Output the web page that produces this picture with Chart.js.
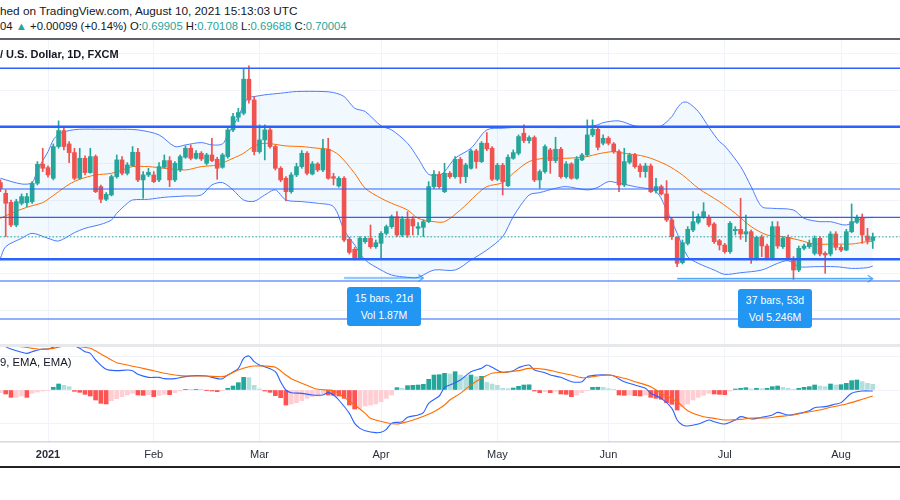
<!DOCTYPE html>
<html><head><meta charset="utf-8">
<script src="https://cdn.jsdelivr.net/npm/chart.js@4.4.0/dist/chart.umd.min.js"></script>
<style>
html,body{margin:0;padding:0;background:#fff;width:900px;height:500px;overflow:hidden;font-family:'Liberation Sans',Arial,sans-serif;color:#131722;}
.abs{position:absolute;white-space:nowrap;}
#h1{left:0;top:4px;font-size:11.8px;line-height:14px;}
#h2{left:0;top:19px;font-size:11.3px;line-height:14px;}
#h2 .t{color:#26a69a;}
#sep{left:0;top:37.5px;width:900px;height:2px;background:#5f6168;}
#title{left:0;top:47px;font-size:11px;line-height:14px;font-weight:bold;z-index:3;}
#price{position:absolute;left:0;top:40px;}
#macd{position:absolute;left:0;top:346px;}
#paneSep{left:0;top:344px;width:900px;height:3px;background:#e6e8ec;z-index:3;}
#macdLbl{left:0;top:355px;font-size:11.3px;line-height:14px;z-index:3;}
.box{position:absolute;width:74px;height:39px;background:#2196f3;color:#fff;border-radius:3px;font-size:10.5px;line-height:17px;padding-top:3px;box-sizing:border-box;text-align:center;z-index:4;white-space:nowrap;}
#bottom{left:0;top:466px;width:900px;height:2px;background:#222;}
</style>
</head><body>
<div id="h1" class="abs">hed on TradingView.com, August 10, 2021 15:13:03 UTC</div>
<div id="h2" class="abs"></div>
<div id="sep" class="abs"></div>
<div id="title" class="abs">/ U.S. Dollar, 1D, FXCM</div>
<canvas id="price" width="900" height="305"></canvas>
<div id="paneSep" class="abs"></div>
<canvas id="macd" width="900" height="121"></canvas>
<div id="macdLbl" class="abs">9, EMA, EMA)</div>
<div class="box" style="left:347px;top:287px">15 bars, 21d<br>Vol 1.87M</div>
<div class="box" style="left:738px;top:289px">37 bars, 53d<br>Vol 5.246M</div>
<div id="bottom" class="abs"></div>
<script>
// ---------- DATA ----------
const monthTickIdx = [9, 29, 49, 72, 94, 115, 137, 159];
const monthLabels = ['2021', 'Feb', 'Mar', 'Apr', 'May', 'Jun', 'Jul', 'Aug'];

const opens = [0.71482,0.71191,0.70945,0.70327,0.70918,0.70936,0.70964,0.71464,0.71982,0.71891,
0.71600,0.72464,0.72900,0.72536,0.72300,0.71600,0.72145,0.71755,0.72191,0.71373,
0.71027,0.71145,0.71645,0.72100,0.71736,0.71945,0.72309,0.71555,0.71691,0.71691,
0.71555,0.71900,0.72082,0.71555,0.71827,0.72173,0.72418,0.72145,0.72282,0.72009,
0.72236,0.72118,0.71900,0.72191,0.72918,0.73264,0.73373,0.74300,0.73736,0.72327,
0.72645,0.72918,0.72464,0.71873,0.71600,0.71236,0.71691,0.71918,0.72282,0.71718,
0.71991,0.71827,0.72391,0.71645,0.71391,0.71600,0.69936,0.69664,0.69418,0.69873,
0.69964,0.69736,0.69827,0.70100,0.70282,0.70555,0.70055,0.70491,0.70491,0.70236,
0.70264,0.70418,0.71373,0.71709,0.71236,0.71736,0.71645,0.72118,0.71645,0.71873,
0.72345,0.72055,0.72555,0.72418,0.71573,0.71955,0.71400,0.72145,0.72282,0.72827,
0.72627,0.72709,0.71555,0.71782,0.72373,0.72082,0.72391,0.71645,0.71991,0.71600,
0.72100,0.72236,0.72782,0.72936,0.72555,0.72691,0.72536,0.72327,0.71418,0.72036,
0.72236,0.71936,0.71782,0.71936,0.71264,0.71373,0.71173,0.70464,0.69991,0.69300,
0.69827,0.70191,0.70400,0.70536,0.70536,0.70355,0.69900,0.69782,0.69600,0.70173,
0.70209,0.70082,0.70145,0.69418,0.69991,0.69755,0.69418,0.70282,0.69736,0.69991,
0.69418,0.69100,0.69691,0.69736,0.69555,0.69964,0.69555,0.69536,0.70082,0.69718,
0.69645,0.70145,0.70400,0.70527,0.70027,0.69905];
const highs = [0.71555,0.71282,0.71009,0.71027,0.71173,0.71191,0.71509,0.72055,0.72418,0.71936,
0.72536,0.73164,0.72991,0.72600,0.72418,0.72418,0.72209,0.72418,0.72236,0.71418,
0.71209,0.71691,0.72236,0.72191,0.72027,0.72464,0.72418,0.71782,0.71873,0.71782,
0.72027,0.72236,0.72191,0.72055,0.72236,0.72482,0.72509,0.72355,0.72327,0.72282,
0.72691,0.72173,0.72282,0.72964,0.73373,0.73509,0.74573,0.74664,0.73827,0.73055,
0.73055,0.72991,0.72509,0.71918,0.71645,0.71755,0.72009,0.72355,0.72327,0.72055,
0.72027,0.72664,0.72691,0.71736,0.71645,0.71645,0.69991,0.69718,0.70009,0.70009,
0.70327,0.69918,0.70145,0.70327,0.70600,0.70691,0.70555,0.70691,0.70555,0.70391,
0.70464,0.71509,0.71809,0.71782,0.72009,0.71782,0.72191,0.72173,0.72009,0.72391,
0.72391,0.72600,0.72845,0.72464,0.72009,0.72009,0.72236,0.72373,0.72782,0.73055,
0.72755,0.72755,0.71827,0.72509,0.72418,0.72718,0.72445,0.72055,0.72027,0.72191,
0.72282,0.73191,0.73191,0.73009,0.72782,0.72736,0.72573,0.72373,0.72418,0.72282,
0.72282,0.71991,0.72009,0.71991,0.71600,0.71418,0.71536,0.70509,0.70009,0.69918,
0.70282,0.70691,0.70627,0.70936,0.70600,0.70391,0.69936,0.69827,0.70418,0.70282,
0.71055,0.70600,0.70191,0.70027,0.70055,0.69809,0.70418,0.70418,0.70009,0.70055,
0.69464,0.69755,0.69809,0.69918,0.70027,0.70009,0.69600,0.70145,0.70145,0.69782,
0.70209,0.70900,0.70600,0.70627,0.70236,0.70108];
const lows = [0.71236,0.70009,0.70282,0.70282,0.70873,0.70827,0.70918,0.71418,0.71782,0.71627,
0.71555,0.72418,0.72373,0.72027,0.71555,0.71573,0.71691,0.71736,0.71209,0.70936,
0.70991,0.71118,0.71600,0.71691,0.71691,0.71918,0.71509,0.71055,0.71645,0.71482,
0.71509,0.71873,0.71373,0.71509,0.71782,0.72145,0.72100,0.72118,0.72082,0.71964,
0.72055,0.71573,0.71873,0.72145,0.72873,0.73145,0.73327,0.73645,0.72236,0.72282,
0.72100,0.72418,0.71827,0.71509,0.70982,0.71191,0.71645,0.71873,0.71691,0.71691,
0.71782,0.71782,0.71573,0.71418,0.71355,0.69873,0.69536,0.69373,0.69391,0.69827,
0.69691,0.69691,0.69418,0.70055,0.70236,0.70009,0.70009,0.69991,0.70055,0.70055,
0.70009,0.70391,0.71327,0.71327,0.71209,0.71600,0.71600,0.71464,0.71482,0.71845,
0.71873,0.72027,0.72355,0.71536,0.71536,0.71145,0.71373,0.72118,0.72236,0.72573,
0.72555,0.71509,0.71327,0.71736,0.71736,0.72027,0.71600,0.71600,0.71573,0.71573,
0.72082,0.72191,0.72736,0.72373,0.72509,0.72509,0.72282,0.71236,0.71373,0.71991,
0.71873,0.71627,0.71627,0.71209,0.71191,0.71145,0.70418,0.69936,0.69191,0.69264,
0.69782,0.70145,0.70355,0.70509,0.70282,0.69827,0.69645,0.69555,0.69555,0.70055,
0.69936,0.69873,0.69282,0.69373,0.69464,0.69373,0.69373,0.69691,0.69691,0.69373,
0.68845,0.69055,0.69645,0.69691,0.69509,0.69482,0.69009,0.69482,0.69645,0.69600,
0.69627,0.70118,0.70373,0.69827,0.69809,0.69688];
const closes = [0.71327,0.70918,0.70327,0.70964,0.71100,0.71100,0.71464,0.71982,0.71873,0.71691,
0.72464,0.72900,0.72464,0.72300,0.71600,0.72145,0.71755,0.72191,0.71236,0.71027,
0.71164,0.71645,0.72100,0.71736,0.71964,0.72309,0.71555,0.71691,0.71764,0.71509,
0.71918,0.72082,0.71555,0.72009,0.72191,0.72418,0.72145,0.72282,0.72127,0.72236,
0.72082,0.71873,0.72236,0.72918,0.73282,0.73391,0.74300,0.73736,0.72327,0.72645,
0.72918,0.72464,0.71873,0.71555,0.71236,0.71691,0.71918,0.72282,0.71736,0.71991,
0.71827,0.72391,0.71600,0.71600,0.71600,0.69918,0.69582,0.69418,0.69964,0.69964,
0.69736,0.69845,0.70100,0.70282,0.70555,0.70055,0.70491,0.70055,0.70300,0.70282,
0.70418,0.71373,0.71709,0.71373,0.71736,0.71645,0.72118,0.71645,0.71964,0.72345,
0.72055,0.72555,0.72400,0.71573,0.71955,0.71509,0.72173,0.72300,0.72736,0.72627,
0.72709,0.71555,0.71782,0.72464,0.72082,0.72391,0.71645,0.71991,0.71600,0.72127,
0.72236,0.72782,0.72936,0.72445,0.72691,0.72555,0.72327,0.71418,0.72055,0.72236,
0.71918,0.71782,0.71936,0.71236,0.71373,0.71173,0.70464,0.70009,0.69282,0.69845,
0.70209,0.70418,0.70555,0.70691,0.70327,0.69873,0.69782,0.69600,0.70373,0.70209,
0.70082,0.70145,0.69418,0.69991,0.69755,0.69418,0.70282,0.69755,0.69964,0.69418,
0.69100,0.69691,0.69755,0.69827,0.69964,0.69536,0.69509,0.70082,0.69718,0.69645,
0.70145,0.70418,0.70527,0.70055,0.69905,0.70004];

// Bollinger bands (bar index, price)
const upIdx = [0,4,6,7,9,10,11,13,15,19,22,26,30,33,35,38,40,42,43,45,46,47,48,50,53,56,61,63,65,67,69,72,74,77,79,81,83,84,86,89,92,95,98,101,107,111,113,114,117,120,123,125,127,128,129,130,132,134,136,137,140,142,144,146,150,152,155,157,160,163,165];
const bbUpper = [0.71600,0.71445,0.71482,0.71827,0.72327,0.72645,0.72800,0.72900,0.72936,0.72936,0.72936,0.72918,0.72782,0.72464,0.72509,0.72573,0.72509,0.72536,0.72782,0.73282,0.73600,0.73800,0.73827,0.73873,0.73918,0.73964,0.73964,0.73936,0.73827,0.73509,0.73418,0.73027,0.72918,0.72555,0.72145,0.71709,0.71691,0.71782,0.72145,0.72418,0.72918,0.72964,0.72991,0.72991,0.72982,0.73009,0.73055,0.73118,0.73164,0.73027,0.72991,0.73027,0.73282,0.73509,0.73664,0.73664,0.73418,0.72991,0.72600,0.72482,0.71918,0.71373,0.70827,0.70782,0.70736,0.70509,0.70418,0.70418,0.70327,0.70509,0.70536];
const loIdx = [0,1,4,6,9,11,14,16,19,21,22,24,25,28,31,35,38,40,42,44,46,48,50,52,54,57,60,63,65,67,69,72,74,77,79,82,86,89,92,95,97,100,102,105,107,111,113,115,117,120,124,126,128,130,132,135,137,140,144,147,149,151,154,158,161,164,165];
const bbLower = [0.69418,0.69736,0.69964,0.70100,0.69964,0.69891,0.70118,0.70236,0.70345,0.70464,0.70645,0.70918,0.71009,0.71027,0.71082,0.71118,0.71145,0.71418,0.71482,0.71282,0.71009,0.70973,0.71145,0.71282,0.71009,0.70964,0.70918,0.70827,0.70191,0.69782,0.69373,0.69100,0.68964,0.68900,0.68900,0.69100,0.69100,0.69373,0.69645,0.70009,0.70555,0.71145,0.71209,0.71327,0.71373,0.71282,0.71355,0.71509,0.71464,0.71373,0.71236,0.70736,0.70100,0.69464,0.69282,0.69100,0.68982,0.69027,0.69100,0.69282,0.69355,0.69191,0.69191,0.69191,0.69145,0.69164,0.69209];
const bsIdx = [0,2,5,8,9,11,13,15,18,21,24,25,28,31,35,38,41,44,46,48,50,54,57,60,62,64,67,69,72,74,77,79,82,84,87,90,92,95,97,100,103,107,111,113,116,118,122,126,129,132,136,139,142,145,148,151,154,158,161,164,165];
const bbBasis = [0.70509,0.70645,0.70809,0.70936,0.71027,0.71236,0.71436,0.71573,0.71691,0.71736,0.71873,0.71918,0.71918,0.71873,0.71827,0.71918,0.71964,0.72145,0.72282,0.72482,0.72555,0.72482,0.72464,0.72418,0.72391,0.72236,0.71736,0.71327,0.71055,0.70918,0.70736,0.70509,0.70418,0.70418,0.70736,0.71145,0.71373,0.71482,0.71736,0.72055,0.72145,0.72145,0.72191,0.72264,0.72327,0.72282,0.72191,0.71964,0.71691,0.71327,0.70964,0.70645,0.70282,0.70055,0.70009,0.69918,0.69809,0.69809,0.69809,0.69873,0.69873];

// Horizontal drawn levels (price)
const levelPrices = [0.74597, 0.73005, 0.71308, 0.70537, 0.69392, 0.68801, 0.67766];
const levelWidths = [1.4, 2.4, 1.2, 1.2, 2.4, 1.2, 1.2];
const priceGrid = [0.68, 0.69, 0.70, 0.71, 0.72, 0.73, 0.74, 0.75];

// Date range drawings
const rangeFrom = [65, 128];
const rangeTo = [80, 165];
const rangePrice = [0.68883, 0.68864];

// MACD
const mIdx = [0,1,2,3,5,6,8,9,11,12,14,15,16,17,18,20,22,24,25,26,28,30,31,33,35,37,39,41,42,43,45,46,47,48,49,50,52,53,54,55,57,59,61,62,63,64,66,67,68,69,71,72,73,74,76,77,79,80,81,83,84,85,87,89,91,92,93,95,97,98,100,101,103,104,106,108,110,111,113,115,116,117,118,120,122,123,125,127,128,129,130,132,134,135,137,139,140,142,144,146,147,149,151,153,154,156,158,159,161,163,165];
const macdLine = [0.00725,0.0065,0.00615,0.0059,0.0055,0.00575,0.00615,0.00615,0.0067,0.00685,0.0066,0.00625,0.00575,0.0055,0.0045,0.0031,0.0029,0.003,0.0029,0.00235,0.0019,0.0019,0.0017,0.0017,0.002,0.00215,0.0021,0.0017,0.0017,0.00225,0.00325,0.00475,0.0051,0.00425,0.00375,0.0035,0.00275,0.00125,0,-0.0004,-0.0005,-0.00075,-0.00075,-0.0004,-0.00075,-0.0015,-0.0035,-0.005,-0.00575,-0.0061,-0.0064,-0.00635,-0.0059,-0.005,-0.00475,-0.0041,-0.00375,-0.0034,-0.002,-0.0009,0.0004,0.00075,0.0015,0.00275,0.00325,0.00375,0.0034,0.00265,0.0029,0.00335,0.00375,0.003,0.0026,0.00225,0.0019,0.00125,0.00125,0.002,0.00225,0.00225,0.00215,0.00165,0.00125,0.00075,0.00025,-0.0005,-0.00125,-0.00275,-0.0045,-0.00525,-0.0054,-0.0051,-0.0045,-0.00475,-0.0051,-0.0045,-0.004,-0.00435,-0.0041,-0.00375,-0.00335,-0.00375,-0.0035,-0.0031,-0.00265,-0.0025,-0.0021,-0.0019,-0.0005,-0.00015,-0.00015];
const sIdx = [0,4,6,8,10,12,13,15,17,19,21,22,24,26,29,31,34,37,39,42,43,45,47,48,50,52,54,55,58,60,63,65,67,69,70,73,75,77,79,82,84,85,87,89,91,93,95,98,100,103,105,108,110,113,115,118,120,123,125,128,130,133,135,137,140,142,145,147,150,152,155,157,160,163,165];
const signalLine = [0.00675,0.0065,0.00625,0.0061,0.00625,0.0066,0.00665,0.0065,0.00625,0.0054,0.0045,0.0041,0.00375,0.0034,0.0029,0.0025,0.00215,0.0021,0.0021,0.002,0.00225,0.003,0.0035,0.0036,0.0036,0.0034,0.00225,0.0017,0.0007,0.0001,-0.0001,-0.0011,-0.00225,-0.0035,-0.00425,-0.0049,-0.0051,-0.00475,-0.00425,-0.00325,-0.00225,-0.0015,-0.0005,0.00075,0.00175,0.0025,0.00265,0.0029,0.00325,0.0031,0.00275,0.00225,0.00185,0.0021,0.00225,0.00175,0.00125,0.0005,-0.0005,-0.00175,-0.0031,-0.004,-0.00425,-0.0045,-0.0044,-0.0042,-0.0042,-0.004,-0.00375,-0.0034,-0.003,-0.0026,-0.0021,-0.0014,-0.0009];
const histogram = [-0.0004,-0.0006,-0.0011,-0.0011,-0.0009,-0.0011,-0.0005,-0.0003,-0.00015,-0.0001,
0.0004,0.0009,0.0007,0.0005,-0.0002,-0.00035,-0.00065,-0.0009,-0.0015,-0.002,
-0.0021,-0.0016,-0.0013,-0.001,-0.00075,-0.0005,-0.00075,-0.0008,-0.0007,-0.001,
-0.0008,-0.00065,-0.0007,-0.0004,-0.00015,0.0001,0.00005,0.0001,0.00005,-0.00003,
-0.00015,-0.00025,-0.0001,0.00025,0.0006,0.0011,0.0019,0.00185,0.0007,0.00015,
-0.00015,-0.00035,-0.00085,-0.00115,-0.00225,-0.0021,-0.0019,-0.0016,-0.00125,-0.001,
-0.0009,-0.0006,-0.00075,-0.0008,-0.0009,-0.00125,-0.00225,-0.00285,-0.00275,-0.0024,
-0.00225,-0.0021,-0.00175,-0.00125,-0.00075,0.00035,0.00025,0.00065,0.0007,0.00075,
0.00085,0.0016,0.00225,0.0023,0.0025,0.0024,0.00275,0.00225,0.002,0.00225,
0.002,0.00205,0.00115,0.0009,0.0007,0.00025,0.0002,0.0003,0.00055,0.00075,
0.00078,-0.00015,-0.0004,-0.00025,-0.0004,-0.0002,-0.0006,-0.00065,-0.001,-0.00075,
-0.0004,-0.0001,0.0004,0.00042,0.0004,0.0002,0.00005,-0.00075,-0.0008,-0.00075,
-0.00085,-0.0009,-0.00075,-0.0011,-0.00125,-0.0014,-0.0019,-0.00215,-0.003,-0.0025,
-0.0021,-0.0015,-0.0011,-0.0008,-0.0005,-0.0006,-0.00065,-0.0007,-0.00015,0.00015,
0.00025,0.00035,0.00015,0.00025,0.0002,0.00025,0.0005,0.0006,0.0004,0.00025,
0.0001,0.00025,0.0004,0.0005,0.00075,0.0006,0.0005,0.0009,0.00075,0.0008,
0.001,0.0014,0.0015,0.00125,0.001,0.00085];
const macdGrid = [-0.005, 0, 0.005];

// ---------- HEADER (from data) ----------
const L = closes.length - 1;
document.getElementById('h2').innerHTML =
  '04 <span class="t">&#9650;</span> +0.00099 (+0.14%) O:<span class="t">' + opens[L].toFixed(5) +
  '</span> H:<span class="t">' + highs[L].toFixed(5) + '</span> L:<span class="t">' + lows[L].toFixed(5) +
  '</span> C:<span class="t">' + closes[L].toFixed(5) + '</span>';

// ---------- STYLE / SCALES ----------
const UP = '#26a69a', DOWN = '#ef5350';
const X_MIN = -0.08, X_MAX = 170.15;
const P_MIN = 0.670572, P_MAX = 0.753678;
const M_MIN = -0.0078, M_MAX = 0.0066;
const GRID = '#f0f3fa';
const FONT = "'Liberation Sans', Arial, sans-serif";

const barIdx = closes.map((_, i) => i);
const candleColors = closes.map((c, i) => c >= opens[i] ? UP : DOWN);
const histColors = histogram.map((v, i) => {
  const p = i > 0 ? histogram[i - 1] : v;
  return v >= 0 ? (v >= p ? '#26a69a' : '#b2dfdb') : (v < p ? '#ff5252' : '#ffcdd2');
});
const pts = (ix, vals) => ix.map((x, k) => ({x: x, y: vals[k]}));
const monthTicks = s => { s.ticks = monthTickIdx.map(v => ({value: v})); };

const drawingsPlugin = {
  id: 'drawings',
  afterDatasetsDraw(chart) {
    const c = chart.ctx, xs = chart.scales.x, ys = chart.scales.y, a = chart.chartArea;
    c.save();
    levelPrices.forEach((p, k) => {
      const y = ys.getPixelForValue(p);
      c.beginPath(); c.strokeStyle = '#2962ff'; c.lineWidth = levelWidths[k];
      c.moveTo(a.left, y); c.lineTo(a.right, y); c.stroke();
    });
    const yc = ys.getPixelForValue(closes[L]);
    c.beginPath(); c.setLineDash([1.5, 2]); c.strokeStyle = '#26a69a'; c.lineWidth = 1;
    c.moveTo(a.left, yc); c.lineTo(a.right, yc); c.stroke(); c.setLineDash([]);
    rangeFrom.forEach((f, k) => {
      const x1 = xs.getPixelForValue(f), x2 = xs.getPixelForValue(rangeTo[k]), y = ys.getPixelForValue(rangePrice[k]);
      c.fillStyle = 'rgba(33,150,243,0.18)';
      c.fillRect(x1, y - 1.5, x2 - x1, 3);
      c.beginPath(); c.strokeStyle = 'rgba(33,150,243,0.75)'; c.lineWidth = 1.2;
      c.moveTo(x1, y); c.lineTo(x2, y);
      c.moveTo(x2 - 5, y - 3.5); c.lineTo(x2, y); c.lineTo(x2 - 5, y + 3.5);
      c.stroke();
    });
    c.restore();
  }
};

new Chart(document.getElementById('price'), {
  type: 'bar',
  data: {
    datasets: [
      {type: 'line', data: pts(upIdx, bbUpper), borderColor: '#4d7cff', borderWidth: 1, pointRadius: 0, tension: 0.3, fill: '+1', backgroundColor: 'rgba(33,150,243,0.06)', order: 6},
      {type: 'line', data: pts(loIdx, bbLower), borderColor: '#4d7cff', borderWidth: 1, pointRadius: 0, tension: 0.3, fill: false, order: 6},
      {type: 'line', data: pts(bsIdx, bbBasis), borderColor: '#ff6d00', borderWidth: 1, pointRadius: 0, tension: 0.3, fill: false, order: 5},
      {data: barIdx.map(i => ({x: i, y: [lows[i], highs[i]]})), backgroundColor: candleColors, barThickness: 1, grouped: false, order: 2},
      {data: barIdx.map(i => ({x: i, y: [opens[i], closes[i]]})), backgroundColor: candleColors, barThickness: 4, grouped: false, order: 1}
    ]
  },
  options: {
    responsive: false, animation: false, maintainAspectRatio: false,
    layout: {padding: 0},
    plugins: {legend: {display: false}, tooltip: {enabled: false}},
    scales: {
      x: {type: 'linear', min: X_MIN, max: X_MAX, offset: false,
          grid: {color: GRID, drawTicks: false, offset: false}, border: {display: false},
          ticks: {display: false}, afterBuildTicks: monthTicks, afterFit: s => { s.height = 0; }},
      y: {type: 'linear', min: P_MIN, max: P_MAX,
          grid: {color: GRID, drawTicks: false}, border: {display: false},
          ticks: {display: false}, afterBuildTicks: s => { s.ticks = priceGrid.map(v => ({value: v})); },
          afterFit: s => { s.width = 0; }}
    }
  },
  plugins: [drawingsPlugin]
});

new Chart(document.getElementById('macd'), {
  type: 'bar',
  data: {
    datasets: [
      {type: 'line', data: pts(sIdx, signalLine), borderColor: '#ff6d00', borderWidth: 1.1, pointRadius: 0, tension: 0.3, fill: false, order: 1},
      {type: 'line', data: pts(mIdx, macdLine), borderColor: '#2962ff', borderWidth: 1.1, pointRadius: 0, tension: 0.3, fill: false, order: 2},
      {data: barIdx.map(i => ({x: i, y: histogram[i]})), backgroundColor: histColors, barThickness: 4, grouped: false, order: 3}
    ]
  },
  options: {
    responsive: false, animation: false, maintainAspectRatio: false,
    layout: {padding: 0},
    plugins: {legend: {display: false}, tooltip: {enabled: false}},
    scales: {
      x: {type: 'linear', min: X_MIN, max: X_MAX, offset: false, position: 'bottom',
          grid: {color: GRID, drawTicks: false, offset: false},
          border: {display: true, color: '#d6d8de', width: 1.5},
          ticks: {autoSkip: false, maxRotation: 0, padding: 6, color: '#2a2e39',
                  font: c => ({family: FONT, size: 11, weight: c.index === 0 ? 'bold' : 'normal'}),
                  callback: (v, i) => monthLabels[i]},
          afterBuildTicks: monthTicks, afterFit: s => { s.height = 25; }},
      y: {type: 'linear', min: M_MIN, max: M_MAX,
          grid: {color: GRID, drawTicks: false}, border: {display: false},
          ticks: {display: false}, afterBuildTicks: s => { s.ticks = macdGrid.map(v => ({value: v})); },
          afterFit: s => { s.width = 0; }}
    }
  }
});
</script>
</body></html>
